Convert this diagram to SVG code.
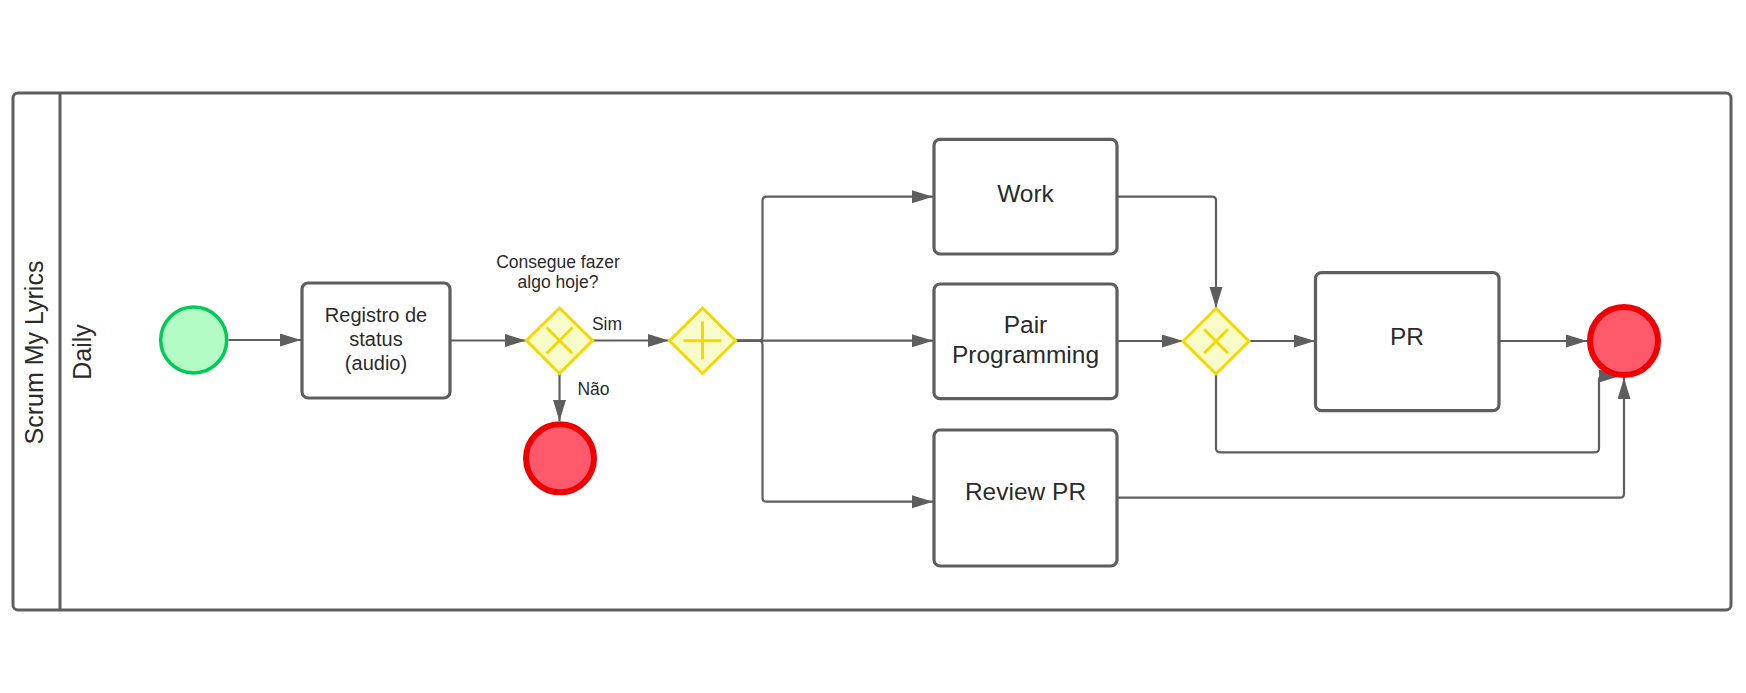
<svg xmlns="http://www.w3.org/2000/svg" width="1746" height="693" viewBox="0 0 1746 693">
<style>
text{font-family:"Liberation Sans",Arial,sans-serif;fill:#2b2b2b}
.pool{fill:#fff;stroke:#5e5e5e;stroke-width:3}
.task{fill:#fff;stroke:#5e5e5e;stroke-width:3.2}
.gw{fill:#f7fcc8;stroke:#f5d800;stroke-width:3}
.gwm{stroke:#f5d800;stroke-width:3;fill:none}
.start{fill:#b3fcc5;stroke:#00cc55;stroke-width:3.5}
.end{fill:#ff5a6b;stroke:#f00000;stroke-width:6}
.c{fill:none;stroke:#5e5e5e;stroke-width:2.2}
.t{font-size:24.5px;text-anchor:middle}
.s{font-size:20px;text-anchor:middle}
.l{font-size:17.5px;text-anchor:middle}
</style>
<defs>
<marker id="arr" markerUnits="userSpaceOnUse" markerWidth="22" markerHeight="14" refX="21" refY="6.5" orient="auto">
<path d="M0,0 L21,6.5 L0,13 z" fill="#5e5e5e"/>
</marker>
</defs>
<g id="pool">
<rect class="pool" x="13" y="93" width="1718" height="517" rx="5"/>
<line x1="60" y1="93" x2="60" y2="610" stroke="#5e5e5e" stroke-width="3"/>
<text transform="translate(43,352.5) rotate(-90)" font-size="25" text-anchor="middle">Scrum My Lyrics</text>
<text transform="translate(91,352) rotate(-90)" font-size="25" text-anchor="middle">Daily</text>
</g>
<g id="connectors">
<path class="c" d="M228.5,340 H301" marker-end="url(#arr)"/>
<path class="c" d="M450,340.5 H526" marker-end="url(#arr)"/>
<path class="c" d="M592,340.5 H669" marker-end="url(#arr)"/>
<path class="c" d="M559.5,373.5 V421" marker-end="url(#arr)"/>
<path class="c" d="M735.5,340.7 H758.5 q4,0 4,-4 V200.7 q0,-4 4,-4 H933" marker-end="url(#arr)"/>
<path class="c" d="M735.5,340.7 H933" marker-end="url(#arr)"/>
<path class="c" d="M735.5,340.7 H758.5 q4,0 4,4 V497.7 q0,4 4,4 H933" marker-end="url(#arr)"/>
<path class="c" d="M1117,196.7 H1212 q4,0 4,4 V308" marker-end="url(#arr)"/>
<path class="c" d="M1117,341 H1183" marker-end="url(#arr)"/>
<path class="c" d="M1249,341 H1315" marker-end="url(#arr)"/>
<path class="c" d="M1499,341 H1587" marker-end="url(#arr)"/>
<path class="c" d="M1216,374 V448.3 q0,4 4,4 H1595 q4,0 4,-4 V380 q0,-4 4,-4 H1620" marker-end="url(#arr)"/>
<path class="c" d="M1117,497.7 H1620 q4,0 4,-4 V378" marker-end="url(#arr)"/>
</g>
<g id="start">
<circle class="start" cx="193.7" cy="340" r="33"/>
</g>
<g id="registro">
<rect class="task" x="302" y="283" width="148" height="115" rx="6"/>
<text class="s" x="376" y="321.5">Registro de</text>
<text class="s" x="376" y="346">status</text>
<text class="s" x="376" y="370">(audio)</text>
</g>
<g id="gw1">
<path class="gw" d="M559.5,308 L592.5,340.5 L559.5,373.5 L526.5,340.5 z"/>
<path class="gwm" d="M546.5,327.5 L572.5,353.5 M572.5,327.5 L546.5,353.5"/>
<text class="l" x="558" y="268">Consegue fazer</text>
<text class="l" x="558" y="288">algo hoje?</text>
<text class="l" x="607" y="330">Sim</text>
<text class="l" x="593.5" y="395">Não</text>
</g>
<g id="end1">
<circle class="end" cx="560" cy="458.3" r="34"/>
</g>
<g id="gw2">
<path class="gw" d="M702.5,308 L735.5,340.7 L702.5,373.5 L669.5,340.7 z"/>
<path class="gwm" d="M702.5,321.5 V359.5 M683.5,340.7 H721.5"/>
</g>
<g id="work">
<rect class="task" x="934" y="139.3" width="183" height="114.7" rx="6"/>
<text class="t" x="1025.5" y="201.7">Work</text>
</g>
<g id="pair">
<rect class="task" x="934" y="284" width="183" height="114.7" rx="6"/>
<text class="t" x="1025.5" y="332.7">Pair</text>
<text class="t" x="1025.5" y="363">Programming</text>
</g>
<g id="review">
<rect class="task" x="934" y="430" width="183" height="136" rx="6"/>
<text class="t" x="1025.5" y="500">Review PR</text>
</g>
<g id="gw3">
<path class="gw" d="M1216,308.5 L1249,341.3 L1216,374 L1183,341.3 z"/>
<path class="gwm" d="M1204,329.3 L1228,353.3 M1228,329.3 L1204,353.3"/>
</g>
<g id="pr">
<rect class="task" x="1315.5" y="272.7" width="183.5" height="138" rx="6"/>
<text class="t" x="1407" y="345">PR</text>
</g>
<g id="end2">
<circle class="end" cx="1624" cy="341" r="34"/>
</g>
</svg>
